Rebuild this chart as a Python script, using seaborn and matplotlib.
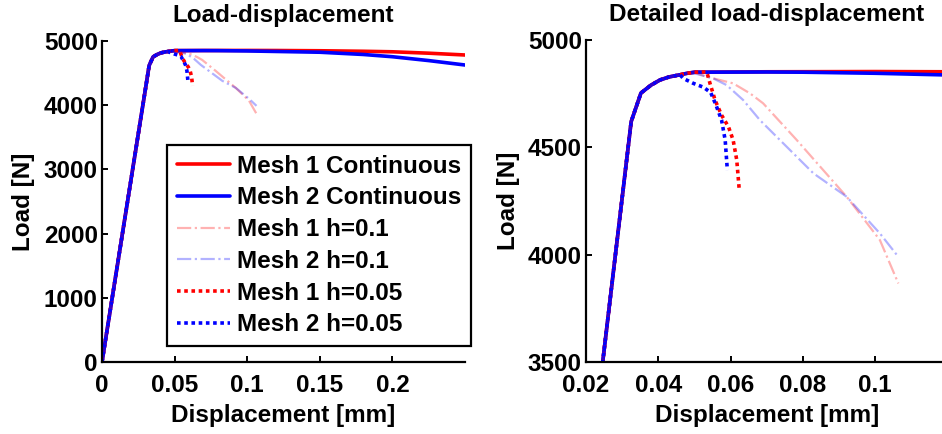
import numpy as np
import pandas as pd
import matplotlib
matplotlib.use("Agg")
import matplotlib.pyplot as plt
import seaborn as sns

# ---------------- data ----------------
# shared elastic / hardening branch
base_x = [0.0, 0.0325, 0.0352, 0.038, 0.0405, 0.043, 0.046, 0.048]
base_y = [0.0, 4620, 4753, 4790, 4814, 4828, 4838, 4845]

# continuous models
m1_cont_x = base_x + [0.05, 0.07, 0.10, 0.12, 0.15, 0.18, 0.20, 0.225, 0.25]
m1_cont_y = base_y + [4850, 4852, 4853, 4852, 4848, 4840, 4832, 4810, 4782]
m2_cont_x = base_x + [0.05, 0.07, 0.08, 0.10, 0.12, 0.15, 0.18, 0.20, 0.225, 0.25]
m2_cont_y = base_y + [4850, 4851, 4850, 4845, 4837, 4825, 4790, 4755, 4695, 4626]

# h = 0.1
m1_h01_x = base_x + [0.050, 0.0534, 0.0607, 0.0654, 0.0690, 0.0783, 0.0921, 0.1013, 0.1064]
m1_h01_y = base_y + [4848, 4829, 4798, 4751, 4705, 4534, 4270, 4068, 3866]
m2_h01_x = base_x + [0.0506, 0.0552, 0.0589, 0.0635, 0.0681, 0.0829, 0.0921, 0.1013, 0.1064]
m2_h01_y = base_y + [4842, 4821, 4790, 4720, 4627, 4379, 4270, 4099, 3990]

# h = 0.05
m1_h005_x = base_x + [0.050, 0.0534, 0.0543, 0.0557, 0.0575, 0.0594, 0.0607, 0.0617, 0.0624]
m1_h005_y = base_y + [4850, 4851, 4798, 4720, 4650, 4596, 4534, 4441, 4301]
m2_h005_x = base_x[:-1] + [0.0469, 0.0497, 0.0525, 0.0545, 0.0560, 0.0575, 0.0585, 0.0589, 0.0591]
m2_h005_y = base_y[:-1] + [4821, 4798, 4780, 4755, 4695, 4627, 4534, 4440, 4394]

labels = ["Mesh 1 Continuous", "Mesh 2 Continuous", "Mesh 1 h=0.1",
          "Mesh 2 h=0.1", "Mesh 1 h=0.05", "Mesh 2 h=0.05"]

left_xticks = [0, 0.05, 0.1, 0.15, 0.2]
left_xticklabels = ["0", "0.05", "0.1", "0.15", "0.2"]
left_yticks = [0, 1000, 2000, 3000, 4000, 5000]
right_xticks = [0.02, 0.04, 0.06, 0.08, 0.1]
right_xticklabels = ["0.02", "0.04", "0.06", "0.08", "0.1"]
right_yticks = [3500, 4000, 4500, 5000]

# ---------------- styling ----------------
sns.set_theme(style="white")
plt.rcParams["font.family"] = ["Liberation Sans", "DejaVu Sans"]
plt.rcParams["font.weight"] = "bold"
plt.rcParams["axes.labelweight"] = "bold"
plt.rcParams["axes.titleweight"] = "bold"
for k in ("text.color", "axes.labelcolor", "xtick.color", "ytick.color", "axes.edgecolor"):
    plt.rcParams[k] = "black"
FS = 17.5

series = [
    (m1_cont_x, m1_cont_y, dict(color=(1, 0, 0), lw=2.6, linestyle="-")),
    (m2_cont_x, m2_cont_y, dict(color=(0, 0, 1), lw=2.6, linestyle="-")),
    (m1_h01_x, m1_h01_y, dict(color=(1, 0, 0), lw=1.6, linestyle="-.", alpha=0.3)),
    (m2_h01_x, m2_h01_y, dict(color=(0, 0, 1), lw=1.6, linestyle="-.", alpha=0.3)),
    (m1_h005_x, m1_h005_y, dict(color=(1, 0, 0), lw=2.6, linestyle=(0, (1, 1)))),
    (m2_h005_x, m2_h005_y, dict(color=(0, 0, 1), lw=2.6, linestyle=(0, (1, 1)))),
]

fig = plt.figure(figsize=(9.42, 4.34), dpi=100)
axL = fig.add_axes([102 / 942, 72 / 434, 363 / 942, 321 / 434])
axR = fig.add_axes([586 / 942, 72 / 434, 361.5 / 942, 322 / 434])

for ax in (axL, axR):
    for (xs, ys, kw), lab in zip(series, labels):
        df = pd.DataFrame({"x": xs, "y": ys})
        sns.lineplot(data=df, x="x", y="y", ax=ax, sort=False, estimator=None,
                     label=lab, legend=False, **kw)
    sns.despine(ax=ax)
    for s in ("left", "bottom"):
        ax.spines[s].set_color("black")
        ax.spines[s].set_linewidth(1.6)
    ax.tick_params(direction="in", length=4, width=1.4, colors="black",
                   labelsize=FS, left=True, bottom=True)
    ax.tick_params(axis="x", pad=9)
    ax.tick_params(axis="y", pad=3)
    ax.set_xlabel("Displacement [mm]", fontsize=FS, fontweight="bold", labelpad=5)
    ax.set_ylabel("Load [N]", fontsize=FS, fontweight="bold", labelpad=6)
    ax.set_facecolor("white")
    ax.grid(False)

axL.set_xlim(0, 0.25)
axL.set_ylim(0, 5000)
axL.set_xticks(left_xticks)
axL.set_xticklabels(left_xticklabels)
axL.set_yticks(left_yticks)
axL.set_title("Load-displacement", fontsize=FS, fontweight="bold", pad=14)

axR.set_xlim(0.02, 0.12)
axR.set_ylim(3500, 5000)
axR.set_xticks(right_xticks)
axR.set_xticklabels(right_xticklabels)
axR.set_yticks(right_yticks)
axR.set_title("Detailed load-displacement", fontsize=FS, fontweight="bold", pad=14)

for ax in (axL, axR):
    for t in ax.get_xticklabels() + ax.get_yticklabels():
        t.set_fontweight("bold")

handles, labs = axL.get_legend_handles_labels()
leg = axL.legend(handles, labs, loc="upper left",
                 bbox_to_anchor=(167 / 942, 1 - 145 / 434),
                 bbox_transform=fig.transFigure, borderaxespad=0,
                 prop={"size": FS, "weight": "bold"}, frameon=True,
                 fancybox=False, framealpha=1, edgecolor="black",
                 handlelength=2.2, handletextpad=0.3, labelspacing=0.36,
                 borderpad=0.4)
leg.get_frame().set_linewidth(1.6)
leg.set_zorder(10)

fig.savefig("out.png", dpi=100, facecolor="white")
